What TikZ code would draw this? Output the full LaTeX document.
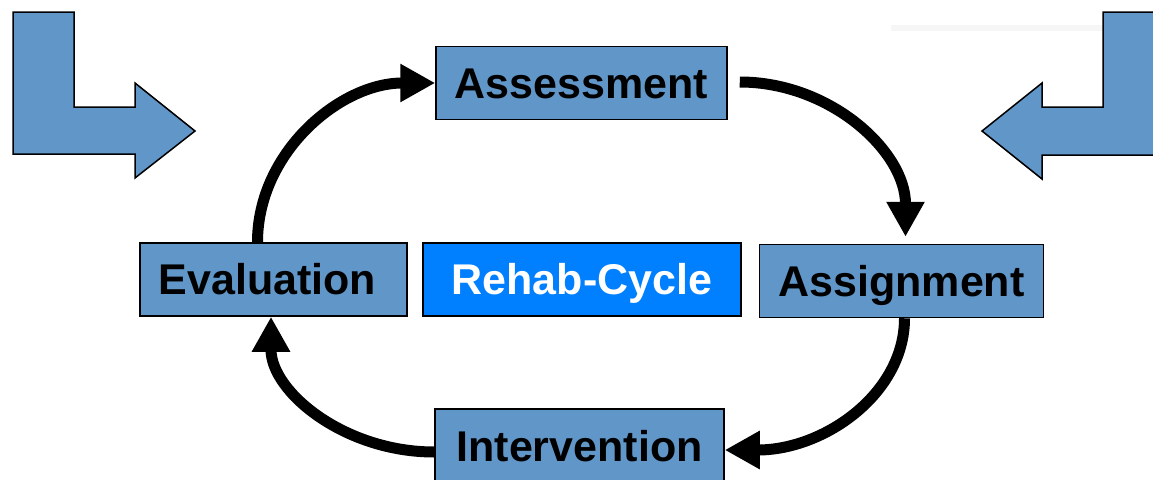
\documentclass[tikz,border=0pt]{standalone}
\usepackage{fontspec}
\setmainfont{Liberation Sans}
\usetikzlibrary{arrows.meta}
\definecolor{boxblue}{HTML}{6096C8}
\definecolor{rehabblue}{HTML}{0080FF}
\definecolor{faintgray}{HTML}{F6F6F6}
\begin{document}
\begin{tikzpicture}[x=1pt,y=-1pt,
  stagebox/.style={draw=black, line width=1.5pt, fill=boxblue, inner sep=0pt,
    text height=30.5pt, text depth=0pt, minimum height=73pt,
    font=\fontsize{43}{51}\selectfont\bfseries},
  cyclearrow/.style={draw=black, line width=11pt, -{Triangle[length=35pt,width=36pt]}},
  bentarrow/.style={draw=black, line width=1.5pt, fill=boxblue, line join=miter}]
\fill[white] (0,0) rectangle (1153,479);
\useasboundingbox (0,0) rectangle (1153,479);
% faint line top right
\fill[faintgray] (891,25) rectangle (1103,31);
% bent arrows
\draw[bentarrow] (13,12) -- (74,12) -- (74,107) -- (135,107) -- (135,83) -- (195,131)
  -- (135,178) -- (135,154) -- (13,154) -- cycle;
\draw[bentarrow] (1103,12) -- (1164,12) -- (1164,155) -- (1042,155) -- (1042,179)
  -- (982,131) -- (1042,83) -- (1042,107) -- (1103,107) -- cycle;
% stages
\node[stagebox, minimum width=291pt] (assess) at (581.5,83) {Assessment};
\node[stagebox, minimum width=267pt] (eval) at (273.5,279.5) {Evaluation\kern12pt\relax};
\node[stagebox, fill=rehabblue, text=white, minimum width=318pt] (rehab) at (582,279.5) {Rehab-Cycle};
\node[stagebox, minimum width=284pt] (assign) at (901.5,281) {Assignment};
\node[stagebox, minimum width=289pt, minimum height=74pt] (interv) at (579.5,446) {Intervention};
% cycle arrows
\draw[cyclearrow] ([xshift=-16pt]eval.north) .. controls +(0,-90) and +(-95,0) .. (assess.west);
\draw[cyclearrow] ([xshift=12pt,yshift=1pt]assess.east) .. controls +(91,0) and +(0,-85) .. ([xshift=4pt,yshift=7pt]assign.north);
\draw[cyclearrow] ([xshift=3pt]assign.south) .. controls +(0,75) and +(100,0) .. ([yshift=-4pt]interv.east);
\draw[cyclearrow] ([yshift=-6pt]interv.west) .. controls +(-90,0) and +(0,75) .. ([xshift=-2.5pt]eval.south);
\end{tikzpicture}
\end{document}
